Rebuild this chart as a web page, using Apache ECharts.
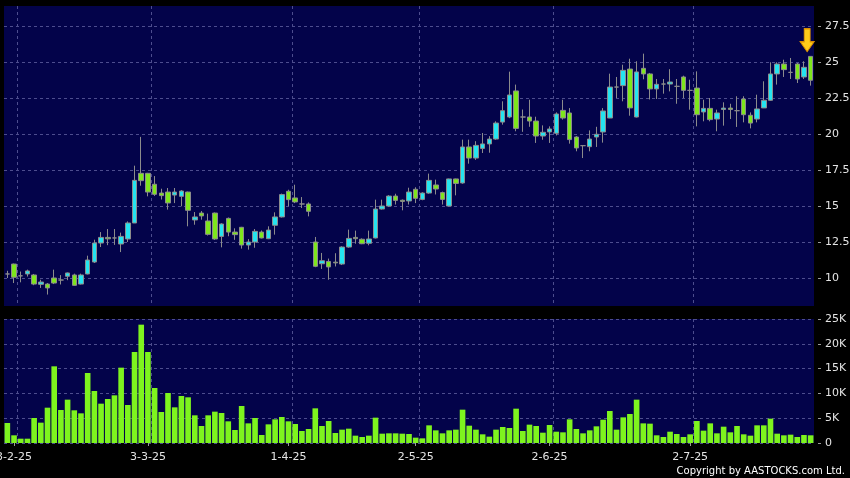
<!DOCTYPE html>
<html><head><meta charset="utf-8">
<script src="https://cdn.jsdelivr.net/npm/echarts@6/dist/echarts.min.js"></script>
<style>html,body{margin:0;padding:0;background:#000;}#c{width:850px;height:478px;}</style>
</head><body><div id="c"></div>
<script>
const dates = ['28-1-25',
'3-2-25','4-2-25','5-2-25','6-2-25','7-2-25','10-2-25','11-2-25','12-2-25','13-2-25','14-2-25','17-2-25','18-2-25','19-2-25','20-2-25','21-2-25','24-2-25','25-2-25','26-2-25','27-2-25','28-2-25',
'3-3-25','4-3-25','5-3-25','6-3-25','7-3-25','10-3-25','11-3-25','12-3-25','13-3-25','14-3-25','17-3-25','18-3-25','19-3-25','20-3-25','21-3-25','24-3-25','25-3-25','26-3-25','27-3-25','28-3-25','31-3-25',
'1-4-25','2-4-25','3-4-25','7-4-25','8-4-25','9-4-25','10-4-25','11-4-25','14-4-25','15-4-25','16-4-25','17-4-25','22-4-25','23-4-25','24-4-25','25-4-25','28-4-25','29-4-25','30-4-25',
'2-5-25','6-5-25','7-5-25','8-5-25','9-5-25','12-5-25','13-5-25','14-5-25','15-5-25','16-5-25','19-5-25','20-5-25','21-5-25','22-5-25','23-5-25','26-5-25','27-5-25','28-5-25','29-5-25','30-5-25',
'2-6-25','3-6-25','4-6-25','5-6-25','6-6-25','9-6-25','10-6-25','11-6-25','12-6-25','13-6-25','16-6-25','17-6-25','18-6-25','19-6-25','20-6-25','23-6-25','24-6-25','25-6-25','26-6-25','27-6-25','30-6-25',
'2-7-25','3-7-25','4-7-25','7-7-25','8-7-25','9-7-25','10-7-25','11-7-25','14-7-25','15-7-25','16-7-25','17-7-25','18-7-25','21-7-25','22-7-25','23-7-25','24-7-25','25-7-25','28-7-25'];

const open = [10.28,10.97,10.15,10.28,10.21,9.56,9.58,10.0,9.86,10.12,10.21,9.58,10.28,11.11,12.43,12.82,12.78,12.36,12.71,13.82,
17.27,17.27,16.51,15.9,15.97,15.76,15.67,15.97,14.03,14.51,13.96,14.51,12.89,14.14,13.19,13.52,12.29,12.5,13.19,12.73,
13.66,14.24,16.02,15.56,15.14,15.14,12.5,10.99,11.15,11.1,10.97,12.15,12.82,12.69,12.41,12.78,14.79,15.0,15.69,15.4,
15.35,16.16,15.46,15.9,16.46,15.93,15.0,16.88,16.6,19.1,18.33,19.0,19.31,19.65,20.83,21.18,22.99,21.18,21.18,20.9,
19.86,20.14,20.05,21.64,21.46,19.79,19.19,19.12,19.79,20.14,21.11,23.26,23.36,24.51,21.18,24.56,24.17,23.13,23.47,23.47,
23.31,23.96,23.03,23.19,21.53,21.78,21.04,21.7,21.8,21.62,22.43,21.3,21.04,21.81,22.34,24.17,24.86,24.28,24.86,23.96,25.39];
const close = [10.28,10.05,10.15,10.49,9.58,9.72,9.31,9.65,9.86,10.35,9.49,10.21,11.25,12.43,12.82,12.72,12.78,12.89,13.82,16.78,
16.76,15.97,15.81,15.72,15.21,15.97,16.04,14.7,14.24,14.31,13.03,12.71,13.75,13.19,13.01,12.29,12.5,13.24,12.78,13.33,
14.24,15.79,15.44,15.28,15.14,14.63,10.81,11.2,10.77,11.05,12.15,12.75,12.73,12.38,12.71,14.79,15.0,15.69,15.39,15.32,
15.97,15.53,15.9,16.78,16.18,15.46,16.88,16.57,19.1,18.33,19.21,19.31,19.65,20.76,21.62,22.71,20.39,21.18,20.9,19.86,
20.12,20.35,21.39,21.11,19.61,19.03,19.19,19.65,19.98,21.6,23.26,23.26,24.42,21.81,24.31,24.17,23.13,23.45,23.47,23.61,
23.31,23.03,23.03,21.34,21.78,21.0,21.46,21.8,21.7,21.62,21.34,20.76,21.74,22.34,24.17,24.86,24.47,24.28,23.82,24.63,23.73];
const low = [10.0,9.65,9.7,10.1,9.5,9.31,8.85,9.58,9.55,9.85,9.45,9.55,10.25,11.04,12.15,12.28,12.3,11.8,12.5,13.82,
16.41,15.67,15.7,15.45,14.75,15.2,14.98,13.59,13.7,14.05,12.95,12.65,12.13,12.9,12.65,12.04,11.97,12.1,12.75,12.7,
13.01,14.2,14.98,15.2,14.86,14.28,10.75,10.63,9.88,10.8,10.9,12.1,12.38,12.35,12.27,12.75,14.75,14.95,15.1,14.7,
15.1,15.2,15.4,15.85,15.8,15.1,14.98,15.74,16.55,17.94,18.2,18.68,18.7,19.6,20.65,21.1,20.19,20.15,20.5,19.38,
19.6,19.38,19.9,21.0,19.33,18.8,18.33,18.8,19.1,19.4,21.1,22.5,22.27,21.27,21.15,23.8,22.4,22.43,22.8,22.96,
22.1,22.5,21.69,20.53,20.88,20.88,20.19,20.58,21.04,20.49,20.81,20.39,20.81,21.8,22.3,23.43,23.96,23.82,23.54,23.82,23.36];
const high = [10.5,11.0,10.45,10.58,10.28,9.88,9.65,10.58,10.2,10.38,10.3,10.3,11.55,12.66,13.19,13.4,13.4,13.15,13.93,17.8,
19.8,17.3,17.08,16.2,16.25,16.25,16.1,16.0,14.58,14.65,14.47,14.55,13.8,14.2,13.45,13.55,12.7,13.4,13.3,13.59,
14.56,15.86,16.13,16.48,15.62,15.25,12.85,11.74,11.35,11.72,12.2,13.36,13.29,12.75,13.29,15.44,15.44,15.75,15.85,15.45,
16.27,16.3,15.95,17.25,16.83,16.0,16.9,16.9,19.61,19.61,19.5,20.07,19.85,20.88,22.27,24.33,23.43,21.7,22.38,21.2,
20.6,20.53,21.5,22.38,21.8,19.85,19.2,20.25,20.5,21.8,24.19,23.96,24.81,25.23,25.05,25.58,24.24,23.82,23.82,24.5,
23.82,24.05,23.77,24.35,22.38,22.5,21.69,22.2,22.1,22.62,22.62,21.5,22.73,23.66,24.98,24.98,25.16,25.28,24.93,25.05,25.4];
const volume = [4030,1550,870,870,5040,4100,7120,15460,6650,8740,6590,5980,14110,10480,7930,8870,9610,15190,7660,18350,
23860,18350,11090,6250,10080,7190,9480,9210,5580,3430,5580,6320,6050,4370,2620,7460,3960,5040,1610,3760,
4770,5240,4370,3830,2420,2820,6990,3430,4440,2020,2690,2890,1480,1210,1480,5110,1880,1950,1950,1880,
1810,1080,940,3560,2550,1950,2550,2690,6720,3490,2690,1750,1280,2690,3230,3020,6920,2420,3700,3430,
2080,3630,2280,2150,4770,2820,1950,2550,3360,4700,6450,2690,5170,5850,8740,3960,3900,1550,1210,2280,
1810,1210,1750,4440,2490,3960,1950,3290,2150,3430,1750,1480,3560,3560,4910,1880,1550,1680,1210,1610,1550];

const dateTickLabels = ['3-2-25','3-3-25','1-4-25','2-5-25','2-6-25','2-7-25'];
const priceTickLabels = [10,12.5,15,17.5,20,22.5,25,27.5];
const volumeTickLabels = ['0','5K','10K','15K','20K','25K'];

const chart = echarts.init(document.getElementById('c'), null, {renderer:'canvas'});
const candleData = dates.map((d,i)=>[open[i],close[i],low[i],high[i]]);
const boundaryIdx = dateTickLabels.map(l=>dates.indexOf(l)+1);
const boundaryCats = Array.from({length: dates.length+1}, (_,i)=>'b'+i);
const NAVY = '#03034a';
const GRIDC = '#4d4d8e';
const TXT = '#e4e4e4';
const FONT = 'DejaVu Sans';
const UP = '#25e4f0';
const DOWN = '#7ee61c';
const WICK = '#8c8c8c';
const isLabel = (i,v)=>dateTickLabels.includes(v);
const splitDash = {color: GRIDC, type: [3,3], width: 1};

const option = {
  backgroundColor: '#000',
  animation: false,
  graphic: [
    {type:'rect', shape:{x:814,y:309,width:12,height:8}, style:{fill:'#000'}, z:100, silent:true},
    {type:'text', x:845, y:471, style:{text:'Copyright by AASTOCKS.com Ltd.', fill:'#ffffff', font:'10px "DejaVu Sans"', align:'right', verticalAlign:'middle'}, z:100, silent:true}
  ],
  grid: [
    {left:4, top:-10, width:810, height:324, outerBoundsMode:'none', containLabel:false},
    {left:4, top:319, width:810, height:124, show:true, backgroundColor:NAVY, borderWidth:0, outerBoundsMode:'none', containLabel:false},
    {left:4, top:6, width:810, height:300, show:true, backgroundColor:NAVY, borderWidth:0, outerBoundsMode:'none', containLabel:false}
  ],
  xAxis: [
    {type:'category', gridIndex:0, data:dates, show:false},
    {type:'category', gridIndex:1, data:dates, offset:3,
      axisLine:{show:false},
      axisTick:{show:true, alignWithLabel:true, interval:isLabel, length:3, lineStyle:{color:'#9a9a9a'}},
      axisLabel:{interval:isLabel, color:TXT, fontFamily:FONT, fontSize:11, margin:6},
      splitLine:{show:false}},
    {type:'category', gridIndex:2, data:boundaryCats, boundaryGap:false,
      axisLine:{show:false}, axisTick:{show:false}, axisLabel:{show:false},
      splitLine:{show:true, interval:(i)=>boundaryIdx.includes(i), lineStyle:splitDash}},
    {type:'category', gridIndex:1, data:boundaryCats, boundaryGap:false,
      axisLine:{show:false}, axisTick:{show:false}, axisLabel:{show:false},
      splitLine:{show:true, interval:(i)=>boundaryIdx.includes(i), lineStyle:splitDash}}
  ],
  yAxis: [
    {type:'value', gridIndex:0, position:'right', min:7.5, max:30, interval:2.5, offset:4,
      axisLine:{show:false},
      axisTick:{show:true, length:3, lineStyle:{color:'#9a9a9a'}},
      axisLabel:{color:TXT, fontFamily:FONT, fontSize:11, margin:7,
        formatter:(v)=>priceTickLabels.includes(v) ? String(v) : ''},
      splitLine:{show:true, lineStyle:{color:['rgba(0,0,0,0)',GRIDC,GRIDC,GRIDC,GRIDC,GRIDC,GRIDC,GRIDC,GRIDC,'rgba(0,0,0,0)'], type:[3,3], width:1}}},
    {type:'value', gridIndex:1, position:'right', min:0, max:25000, interval:5000, offset:4,
      axisLine:{show:false},
      axisTick:{show:true, length:3, lineStyle:{color:'#9a9a9a'}},
      axisLabel:{color:TXT, fontFamily:FONT, fontSize:11, margin:7,
        formatter:(v)=>volumeTickLabels[Math.round(v/5000)]},
      splitLine:{show:true, lineStyle:splitDash}},
    {type:'value', gridIndex:2, min:0, max:1, show:false}
  ],
  series: [
    {type:'candlestick', xAxisIndex:0, yAxisIndex:0, data:candleData, barWidth:5,
      itemStyle:{color:UP, color0:DOWN, borderColor:WICK, borderColor0:WICK, borderColorDoji:WICK, borderWidth:1},
      markPoint:{
        data:[{coord:[dates.length-1, high[high.length-1]]}],
        symbol:'path://M4,0 L10,0 L10,13 L14,13 L7,23 L0,13 L4,13 Z',
        symbolSize:[14,23], symbolOffset:[-3.5,-16],
        itemStyle:{color:'#ffcc1a', borderColor:'#d98e00', borderWidth:1},
        label:{show:false}, silent:true
      }},
    {type:'bar', xAxisIndex:1, yAxisIndex:1, data:volume, barCategoryGap:'16%',
      itemStyle:{color:'#7ef41e'}}
  ]
};
chart.setOption(option);
</script></body></html>
